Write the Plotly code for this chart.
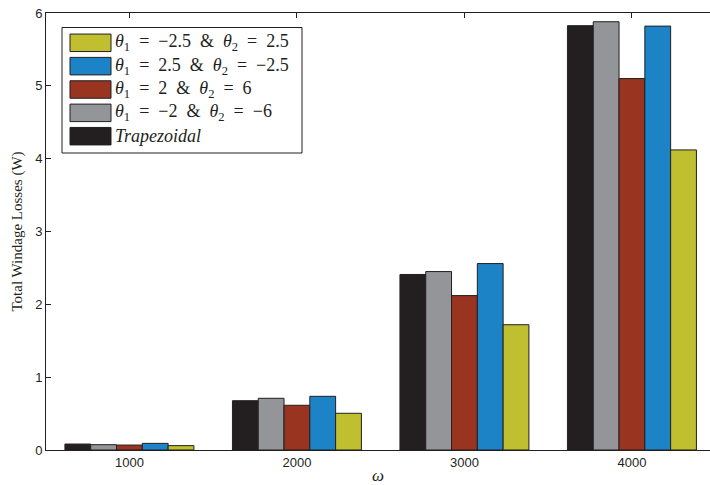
import plotly.graph_objects as go

# Rotor speeds (group positions on the x axis)
speeds = [1000, 2000, 3000, 4000]

SP = "\u2002"  # math-style spacing around relations
# Total windage losses (W) per profile, in bar order within each group
series_names = [
    "<i>Trapezoidal</i>",
    f"<i>θ</i><sub>1</sub>{SP}={SP}−2{SP}&amp;{SP}<i>θ</i><sub>2</sub>{SP}={SP}−6",
    f"<i>θ</i><sub>1</sub>{SP}={SP}2{SP}&amp;{SP}<i>θ</i><sub>2</sub>{SP}={SP}6",
    f"<i>θ</i><sub>1</sub>{SP}={SP}2.5{SP}&amp;{SP}<i>θ</i><sub>2</sub>{SP}={SP}−2.5",
    f"<i>θ</i><sub>1</sub>{SP}={SP}−2.5{SP}&amp;{SP}<i>θ</i><sub>2</sub>{SP}={SP}2.5",
]
trapezoidal = [0.082, 0.677, 2.41, 5.826]
neg2_neg6 = [0.073, 0.71, 2.45, 5.88]
pos2_pos6 = [0.068, 0.614, 2.12, 5.10]
pos25_neg25 = [0.091, 0.737, 2.56, 5.82]
neg25_pos25 = [0.06, 0.504, 1.72, 4.12]
series_values = [trapezoidal, neg2_neg6, pos2_pos6, pos25_neg25, neg25_pos25]

colors = ["#231f20", "#939598", "#98341f", "#1c84c6", "#bfbf30"]
edge = "#231f20"
SERIF = "Liberation Serif, Times New Roman, serif"
SANS = "Liberation Sans, Arial, sans-serif"

W, H = 710, 485
ML, MR, MT, MB = 46, 0, 13, 35
PW, PH = W - ML - MR, H - MT - MB

fig = go.Figure()
for name, vals, col in zip(series_names, series_values, colors):
    fig.add_trace(go.Bar(
        x=speeds, y=vals, name=name, showlegend=False,
        marker=dict(color=col, line=dict(color=edge, width=1)),
    ))


def px_x(p):
    return (p - ML) / PW


def px_y(p):
    return (H - MB - p) / PH


# Legend box drawn with wide swatches, topmost entry is the last series
shapes = [dict(type="rect", xref="paper", yref="paper",
               x0=px_x(62), x1=px_x(302), y0=px_y(153), y1=px_y(27.5),
               line=dict(color="#231f20", width=1), fillcolor="white", layer="above")]
annotations = []
row0, step, sw_h = 42.8, 23.35, 17.5
for i, (name, col) in enumerate(zip(series_names[::-1], colors[::-1])):
    cy = row0 + i * step
    shapes.append(dict(type="rect", xref="paper", yref="paper",
                       x0=px_x(70), x1=px_x(111), y0=px_y(cy + sw_h / 2), y1=px_y(cy - sw_h / 2),
                       line=dict(color=edge, width=1), fillcolor=col, layer="above"))
    annotations.append(dict(xref="paper", yref="paper", x=px_x(113), y=px_y(cy),
                            xanchor="left", yanchor="middle", showarrow=False, text=name,
                            font=dict(family=SERIF, size=18, color="#231f20")))

fig.update_layout(
    width=W, height=H,
    margin=dict(l=ML, r=MR, t=MT, b=MB, pad=0),
    paper_bgcolor="white", plot_bgcolor="white",
    barmode="group", bargap=0.23, bargroupgap=0,
    shapes=shapes, annotations=annotations,
    font=dict(family=SANS, size=13, color="#231f20"),
    xaxis=dict(
        range=[502, 4466], tickvals=speeds, ticktext=[str(s) for s in speeds],
        showgrid=False, zeroline=False, showline=True, linecolor="#231f20", linewidth=1,
        mirror="ticks", ticks="inside", ticklen=5, tickcolor="#231f20", layer="below traces",
        tickfont=dict(family=SANS, size=13, color="#231f20"),
        title=dict(text="<i>ω</i>", standoff=2,
                   font=dict(family=SERIF, size=17, color="#231f20")),
    ),
    yaxis=dict(
        range=[0, 6], tickvals=[0, 1, 2, 3, 4, 5, 6],
        showgrid=False, zeroline=False, showline=True, linecolor="#231f20", linewidth=1,
        ticks="inside", ticklen=5, tickcolor="#231f20", layer="below traces",
        tickfont=dict(family=SANS, size=13, color="#231f20"),
        title=dict(text="Total Windage Losses (W)", standoff=8,
                   font=dict(family=SERIF, size=15, color="#231f20")),
    ),
)

fig.write_html("out.html")
